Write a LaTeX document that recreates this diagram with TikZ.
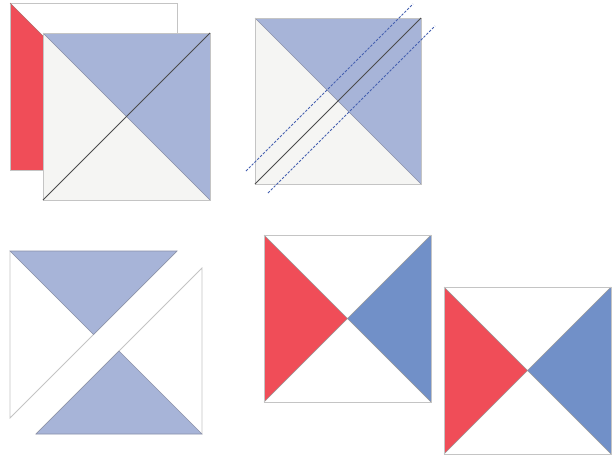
\documentclass[tikz,border=0pt]{standalone}
\usetikzlibrary{calc}
\definecolor{tred}{HTML}{F04D58}
\definecolor{tblue}{HTML}{7190C8}
\definecolor{lblue}{HTML}{A7B4D8}
\definecolor{lgray}{HTML}{F5F5F3}
\definecolor{edge}{HTML}{C4C4C4}
\definecolor{tedge}{HTML}{8A90A8}
\definecolor{dashblue}{HTML}{4560B0}
\tikzset{
  sqborder/.style={draw=edge, line width=0.8pt},
  triblue/.style={fill=lblue, draw=tedge, line width=0.6pt},
  darkdiag/.style={draw=black!70, line width=0.8pt},
  guide/.style={draw=dashblue, dashed, dash pattern=on 2.5pt off 1.5pt, line width=0.9pt},
}
\begin{document}
\begin{tikzpicture}[x=1pt,y=-1pt]
\useasboundingbox (0,0) rectangle (614,458);
\fill[white] (0,0) rectangle (614,458);

% ---------- Panel 1 ----------
% back square
\coordinate (b1) at (10,3);
\coordinate (b2) at (177,3);
\coordinate (b3) at (177,170);
\coordinate (b4) at (10,170);
\fill[white] (b1) rectangle (b3);
\fill[tred] (b1) -- (b3) -- (b4) -- cycle;
\draw[sqborder] (b1) rectangle (b3);
\draw[draw=red!50!black!60, line width=0.5pt] (b1) -- (b3);
% front square
\coordinate (f1) at (43,33);
\coordinate (f2) at (210,33);
\coordinate (f3) at (210,200);
\coordinate (f4) at (43,200);
\coordinate (fc) at (126.5,116.5);
\fill[lgray] (f1) rectangle (f3);
\fill[lblue] (f1) -- (f2) -- (f3) -- (fc) -- cycle;
\draw[draw=tedge, line width=0.6pt] (f1) -- (f3);
\draw[sqborder] (f1) rectangle (f3);
\draw[darkdiag] (f4) -- (f2);

% ---------- Panel 2 ----------
\coordinate (s1) at (255,18);
\coordinate (s2) at (421,18);
\coordinate (s3) at (421,184);
\coordinate (s4) at (255,184);
\coordinate (sc) at (338,101);
\fill[lgray] (s1) rectangle (s3);
\fill[lblue] (s1) -- (s2) -- (s3) -- (sc) -- cycle;
\draw[draw=tedge, line width=0.6pt] (s1) -- (s3);
\draw[sqborder] (s1) rectangle (s3);
\draw[darkdiag] (s4) -- (s2);
\coordinate (g1a) at (246,171);
\coordinate (g1b) at (413,4);
\coordinate (g2a) at (268,193);
\coordinate (g2b) at (435,26);
\draw[guide] (g1a) -- (g1b);
\draw[guide] (g2a) -- (g2b);

% ---------- Panel 3 ----------
\coordinate (u1) at (10,251);
\coordinate (u2) at (177,251);
\coordinate (u4) at (10,418);
\coordinate (ut) at (93.5,334.5);
\fill[white] (u1) -- (u2) -- (u4) -- cycle;
\draw[sqborder] (u2) -- (u4) -- (u1);
\draw[triblue] (u1) -- (u2) -- (ut) -- cycle;

\coordinate (l2) at (202,268);
\coordinate (l3) at (202,434);
\coordinate (l4) at (36,434);
\coordinate (lt) at (119,351);
\fill[white] (l2) -- (l3) -- (l4) -- cycle;
\draw[sqborder] (l4) -- (l2) -- (l3);
\draw[triblue] (l4) -- (l3) -- (lt) -- cycle;

% ---------- Panel 4 ----------
\coordinate (p1) at (264,235);
\coordinate (p2) at (431,235);
\coordinate (p3) at (431,402);
\coordinate (p4) at (264,402);
\coordinate (pc) at (347.5,318.5);
\fill[white] (p1) rectangle (p3);
\fill[tred] (p1) -- (pc) -- (p4) -- cycle;
\fill[tblue] (p2) -- (pc) -- (p3) -- cycle;
\draw[draw=black!40, line width=0.5pt] (p1) -- (p3) (p4) -- (p2);
\draw[sqborder] (p1) rectangle (p3);

% ---------- Panel 5 ----------
\coordinate (q1) at (444,287);
\coordinate (q2) at (611,287);
\coordinate (q3) at (611,454);
\coordinate (q4) at (444,454);
\coordinate (qc) at (527.5,370.5);
\fill[white] (q1) rectangle (q3);
\fill[tred] (q1) -- (qc) -- (q4) -- cycle;
\fill[tblue] (q2) -- (qc) -- (q3) -- cycle;
\draw[draw=black!40, line width=0.5pt] (q1) -- (q3) (q4) -- (q2);
\draw[sqborder] (q1) rectangle (q3);
\end{tikzpicture}
\end{document}
